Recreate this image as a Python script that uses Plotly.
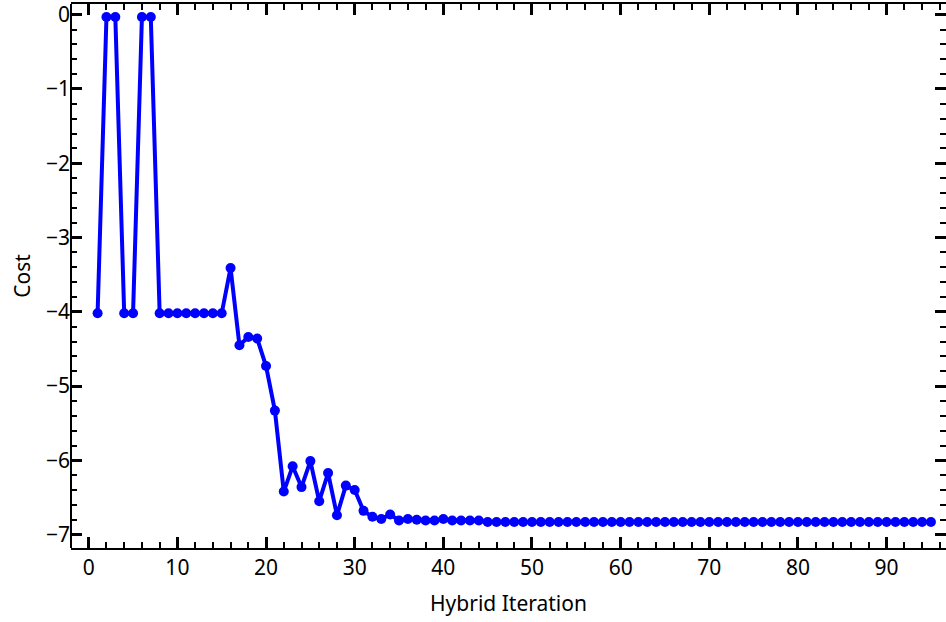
import plotly.graph_objects as go

iterations = list(range(1, 96))
cost = [
    -4.02, -0.03, -0.03, -4.02, -4.02, -0.03, -0.03, -4.02, -4.02, -4.02,
    -4.02, -4.02, -4.02, -4.02, -4.02, -3.41, -4.45, -4.34, -4.36, -4.73,
    -5.33, -6.42, -6.08, -6.36, -6.01, -6.55, -6.17, -6.74, -6.34, -6.40,
    -6.68, -6.76, -6.79, -6.73, -6.81, -6.79, -6.80, -6.81, -6.81, -6.79,
    -6.81, -6.81, -6.81, -6.81, -6.83, -6.83, -6.83, -6.83, -6.83, -6.83,
    -6.83, -6.83, -6.83, -6.83, -6.83, -6.83, -6.83, -6.83, -6.83, -6.83,
    -6.83, -6.83, -6.83, -6.83, -6.83, -6.83, -6.83, -6.83, -6.83, -6.83,
    -6.83, -6.83, -6.83, -6.83, -6.83, -6.83, -6.83, -6.83, -6.83, -6.83,
    -6.83, -6.83, -6.83, -6.83, -6.83, -6.83, -6.83, -6.83, -6.83, -6.83,
    -6.83, -6.83, -6.83, -6.83, -6.83,
]
x_ticks = [0, 10, 20, 30, 40, 50, 60, 70, 80, 90]
y_ticks = [0, -1, -2, -3, -4, -5, -6, -7]

fig = go.Figure()
fig.add_trace(go.Scatter(
    x=iterations, y=cost, mode="lines+markers",
    line=dict(color="#0000ff", width=4),
    marker=dict(color="#0000ff", size=10),
    showlegend=False,
))

tick_common = dict(
    showgrid=False, zeroline=False,
    ticks="inside", ticklen=11, tickwidth=3, tickcolor="black",
    tickfont=dict(family="Noto Sans", size=21, color="black"),
)

fig.update_xaxes(
    **tick_common,
    showline=True, linecolor="black", linewidth=2, mirror="allticks",
    range=[-2.0, 96.7],
    tickvals=x_ticks,
    minor=dict(dtick=2, tick0=0, ticks="inside", ticklen=6, tickwidth=1.5, tickcolor="black"),
    title=dict(text="Hybrid Iteration", font=dict(family="Noto Sans", size=21, color="black"), standoff=16),
)
fig.update_yaxes(
    **tick_common,
    showline=False, mirror="allticks",
    range=[-7.18, 0.144],
    tickvals=y_ticks,
    minor=dict(dtick=0.2, tick0=0, ticks="inside", ticklen=6, tickwidth=1.5, tickcolor="black"),
    title=dict(text="Cost", font=dict(family="Noto Sans", size=21, color="black"), standoff=9),
)

fig.add_shape(type="line", xref="paper", yref="paper", x0=0, x1=0, y0=0, y1=1,
              line=dict(color="black", width=2))

fig.update_layout(
    width=946, height=622,
    margin=dict(l=71, r=0, t=4, b=74),
    paper_bgcolor="white", plot_bgcolor="white",
)

fig.write_html("out.html", config={"displayModeBar": False},
               post_script="document.body.style.margin='0px';document.body.style.overflow='hidden';")
